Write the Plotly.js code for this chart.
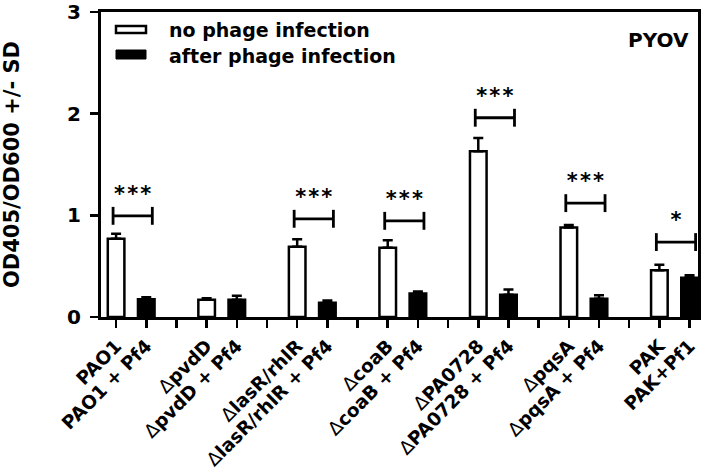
<!DOCTYPE html>
<html>
<head>
<meta charset="utf-8">
<script src="https://cdn.plot.ly/plotly-3.0.1.min.js"></script>
<style>html,body{margin:0;padding:0;background:#fff;}#chart{width:710px;height:473px;}</style>
</head>
<body>
<div id="chart"></div>
<script>
// ---- data ----
const strains = ['PAO1', 'ΔpvdD', 'ΔlasR/rhlR', 'ΔcoaB', 'ΔPA0728', 'ΔpqsA', 'PAK'];
const infectedLabels = ['PAO1 + Pf4', 'ΔpvdD + Pf4', 'ΔlasR/rhlR + Pf4', 'ΔcoaB + Pf4', 'ΔPA0728 + Pf4', 'ΔpqsA + Pf4', 'PAK+Pf1'];
const noPhage = [0.77, 0.17, 0.69, 0.68, 1.63, 0.88, 0.46];
const noPhageSD = [0.05, 0.015, 0.075, 0.075, 0.13, 0.025, 0.055];
const afterPhage = [0.175, 0.17, 0.14, 0.23, 0.22, 0.18, 0.385];
const afterPhageSD = [0.02, 0.04, 0.022, 0.022, 0.05, 0.035, 0.025];
const sigLevel = [0.995, null, 0.966, 0.946, 1.96, 1.12, 0.737];
const sigLabel = ['***', '', '***', '***', '***', '***', '*'];
const seriesNames = ['no phage infection', 'after phage infection'];
const yTicks = [0, 1, 2, 3];

// ---- layout helpers ----
const FONT = 'DejaVu Sans, Arial, sans-serif';
const slot = 3;
const xNo = strains.map((s, i) => i * slot);
const xAfter = strains.map((s, i) => i * slot + 1);

function fmtLabel(t) {
  return t.replace('Δ', '<span style="font-weight:normal">Δ</span>');
}
const tickVals = [];
const tickText = [];
strains.forEach((s, i) => {
  tickVals.push(i * slot, i * slot + 1);
  tickText.push(fmtLabel(s), fmtLabel(infectedLabels[i]));
  if (i < strains.length - 1) { tickVals.push(i * slot + 2); tickText.push(''); }
});

// brackets
const bx = [], by = [], sx = [], sy = [], st = [];
const cap = 0.088;
sigLevel.forEach((lv, i) => {
  if (lv === null) return;
  const a = i * slot - 0.1, b = i * slot + 1.2;
  bx.push(a, a, null, a, b, null, b, b, null);
  by.push(lv - cap, lv + cap, null, lv, lv, null, lv - cap, lv + cap, null);
  sx.push((a + b) / 2);
  sy.push(lv + 0.2);
  st.push(sigLabel[i].split('').join('\u200A'));
});

const traces = [
  {
    type: 'bar', name: seriesNames[0], x: xNo, y: noPhage, width: 0.55,
    marker: {color: '#ffffff', line: {color: '#000000', width: 2.5}},
    error_y: {type: 'data', symmetric: false, array: noPhageSD, arrayminus: noPhageSD.map(() => 0),
              color: '#000000', thickness: 2.5, width: 5},
    hoverinfo: 'skip', showlegend: false
  },
  {
    type: 'bar', name: seriesNames[1], x: xAfter, y: afterPhage, width: 0.55,
    marker: {color: '#000000', line: {color: '#000000', width: 2.5}},
    error_y: {type: 'data', symmetric: false, array: afterPhageSD, arrayminus: afterPhageSD.map(() => 0),
              color: '#000000', thickness: 2.5, width: 5},
    hoverinfo: 'skip', showlegend: false
  },
  {
    type: 'scatter', mode: 'lines', x: bx, y: by, connectgaps: false,
    line: {color: '#000000', width: 2.8}, hoverinfo: 'skip', showlegend: false, cliponaxis: false
  },
  {
    type: 'scatter', mode: 'text', x: sx, y: sy, text: st,
    textfont: {family: FONT, size: 21, color: '#000000', weight: 'bold'},
    hoverinfo: 'skip', showlegend: false, cliponaxis: false
  }
];

const TOP = 12, BOTTOM = 317;
const W = 597, H = BOTTOM - TOP; // plot area px
function px(x) { return (x - 101) / W; }
function py(y) { return (BOTTOM - y) / H; }

const layout = {
  width: 710, height: 473,
  margin: {l: 101, r: 12, t: TOP, b: 473 - BOTTOM},
  paper_bgcolor: '#ffffff', plot_bgcolor: '#ffffff',
  font: {family: FONT, color: '#000000'},
  bargap: 0, barmode: 'overlay',
  xaxis: {
    range: [-0.5, 19.28], tickmode: 'array', tickvals: tickVals, ticktext: tickText,
    tickangle: -45, ticks: 'outside', ticklen: 8, tickwidth: 2.5, tickcolor: '#000',
    showline: true, linewidth: 3, linecolor: '#000', mirror: true,
    showgrid: false, zeroline: false,
    tickfont: {family: FONT, size: 18.5, color: '#000', weight: 'bold'}
  },
  yaxis: {
    range: [0, 3], tickmode: 'array', tickvals: yTicks, ticktext: yTicks.map(String),
    ticks: 'outside', ticklen: 8, tickwidth: 2.5, tickcolor: '#000',
    showline: true, linewidth: 3, linecolor: '#000', mirror: true,
    showgrid: false, zeroline: false, ticklabeloverflow: 'allow', ticklabelstandoff: 5,
    tickfont: {family: FONT, size: 20, color: '#000', weight: 'bold'},
    title: {text: 'OD405/OD600 +/- SD', font: {family: FONT, size: 21, color: '#000', weight: 'bold'}, standoff: 47}
  },
  shapes: [
    {type: 'rect', xref: 'paper', yref: 'paper', x0: px(116), x1: px(146), y0: py(33), y1: py(26),
     fillcolor: '#ffffff', line: {color: '#000', width: 2.5}},
    {type: 'rect', xref: 'paper', yref: 'paper', x0: px(116), x1: px(146), y0: py(59), y1: py(50),
     fillcolor: '#000000', line: {color: '#000', width: 1}}
  ],
  annotations: [
    {xref: 'paper', yref: 'paper', x: px(167), y: py(30), xanchor: 'left', yanchor: 'middle', showarrow: false,
     text: seriesNames[0], font: {family: FONT, size: 19, color: '#000', weight: 'bold'}},
    {xref: 'paper', yref: 'paper', x: px(167), y: py(56), xanchor: 'left', yanchor: 'middle', showarrow: false,
     text: seriesNames[1], font: {family: FONT, size: 19, color: '#000', weight: 'bold'}},
    {xref: 'paper', yref: 'paper', x: px(691), y: py(39.5), xanchor: 'right', yanchor: 'middle', showarrow: false,
     text: 'PYOV', font: {family: FONT, size: 20, color: '#000', weight: 'bold'}}
  ],
  showlegend: false
};

Plotly.newPlot('chart', traces, layout, {displayModeBar: false, staticPlot: true});
</script>
</body>
</html>
